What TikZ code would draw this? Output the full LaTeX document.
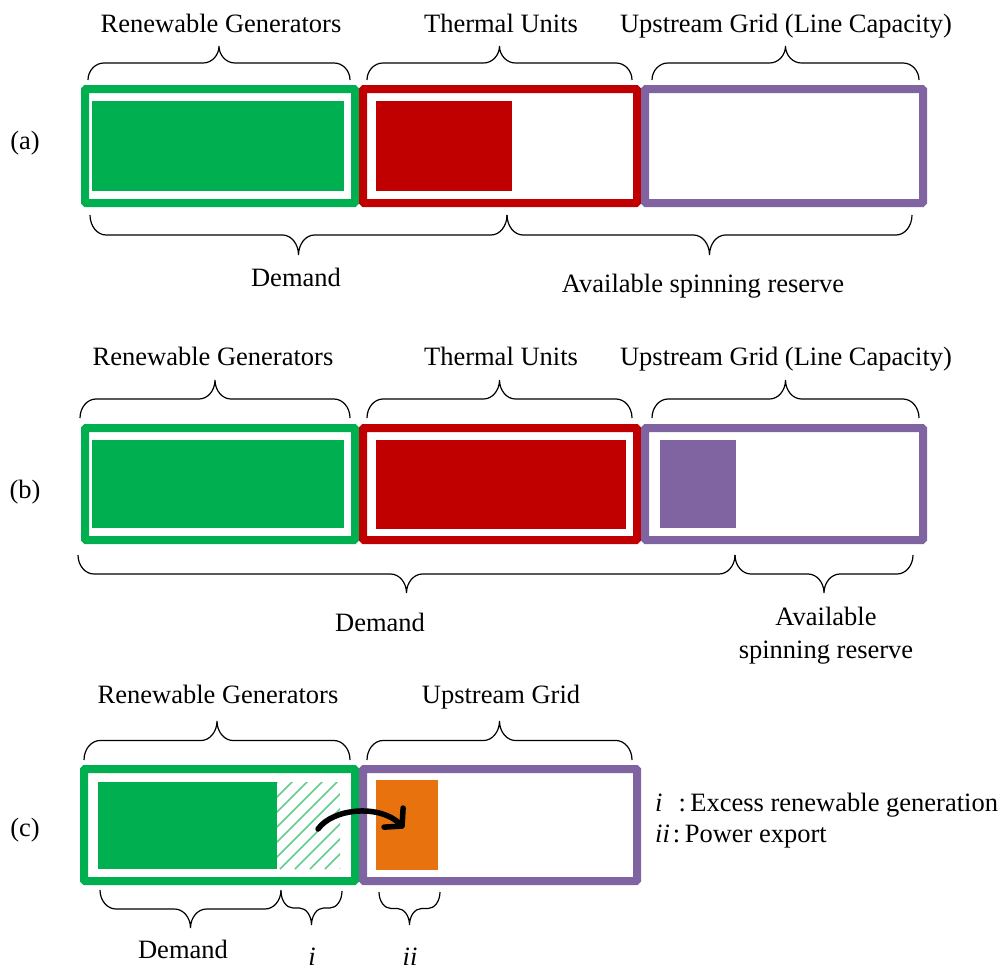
\documentclass[tikz,border=0pt]{standalone}
\usepackage{fontspec}
\setmainfont{Liberation Serif}
\usetikzlibrary{arrows.meta}
\definecolor{cgreen}{RGB}{0,176,80}
\definecolor{cred}{RGB}{192,0,0}
\definecolor{cpurple}{RGB}{128,100,162}
\definecolor{corange}{RGB}{232,114,14}
\definecolor{chatch}{RGB}{100,205,140}
\newcommand\mybrace[5]{%
  \pgfmathsetmacro\bxa{#1}\pgfmathsetmacro\bxb{#2}\pgfmathsetmacro\byo{#3}%
  \pgfmathsetmacro\bym{#3+0.5*(#4)}\pgfmathsetmacro\byt{#3+(#4)}%
  \pgfmathsetmacro\bxm{(#1+#2)/2}\pgfmathsetmacro\bc{#5}%
  \pgfmathsetmacro\byq{\byo+0.55*(\bym-\byo)}%
  \pgfmathsetmacro\byr{\bym+0.45*(\byt-\bym)}%
  \draw[bracestyle] (\bxa,\byo) .. controls (\bxa,\byq) and ({\bxa+0.45*\bc},\bym) .. ({\bxa+\bc},\bym)
    -- ({\bxm-\bc},\bym) .. controls ({\bxm-0.45*\bc},\bym) and (\bxm,\byr) .. (\bxm,\byt)
    .. controls (\bxm,\byr) and ({\bxm+0.45*\bc},\bym) .. ({\bxm+\bc},\bym)
    -- ({\bxb-\bc},\bym) .. controls ({\bxb-0.45*\bc},\bym) and (\bxb,\byq) .. (\bxb,\byo);
}
\begin{document}
\begin{tikzpicture}[x=1pt,y=-1pt,
  lbl/.style={anchor=base,inner sep=0pt,font=\fontsize{26.5}{30}\selectfont},
  lgd/.style={anchor=base west,inner sep=0pt,font=\fontsize{26.5}{30}\selectfont},
  frame/.style={line width=8pt,rounded corners=1pt},
  bracestyle/.style={line width=1.2pt,black},
  hatchline/.style={line width=1.6pt,chatch},
  exportarrow/.style={line width=5.5pt,line cap=round,-{Straight Barb[length=12pt,width=27pt,round]}}]
\useasboundingbox (0,0) rectangle (1003,969);

% ---------- (a) ----------
\node[lbl] (la) at (25,149) {(a)};
\draw[frame,cgreen] (85,89) rectangle (355,203);
\draw[frame,cred] (363,89) rectangle (637,203);
\draw[frame,cpurple] (645,89) rectangle (923,203);
\fill[cgreen] (92,101) rectangle (344,191);
\fill[cred] (376,101) rectangle (512,191);
\node[lbl] (a1) at (221,32) {Renewable Generators};
\node[lbl] (a2) at (501,32) {Thermal Units};
\node[lbl] (a3) at (786,32) {Upstream Grid (Line Capacity)};
\mybrace{88}{350}{80}{-34}{16}
\mybrace{367}{632}{80}{-34}{16}
\mybrace{652}{919}{80}{-34}{16}
\mybrace{90}{507}{215}{40}{16}
\mybrace{507}{912}{215}{40}{16}
\node[lbl] (a4) at (296,286) {Demand};
\node[lbl] (a5) at (703,292) {Available spinning reserve};

% ---------- (b) ----------
\node[lbl] (lb) at (25,498) {(b)};
\draw[frame,cgreen] (85,428) rectangle (355,540);
\draw[frame,cred] (363,428) rectangle (637,540);
\draw[frame,cpurple] (645,428) rectangle (923,540);
\fill[cgreen] (92,440) rectangle (344,528);
\fill[cred] (376,440) rectangle (626,529);
\fill[cpurple] (660,440) rectangle (736,528);
\node[lbl] (b1) at (213,365) {Renewable Generators};
\node[lbl] (b2) at (501,365) {Thermal Units};
\node[lbl] (b3) at (786,365) {Upstream Grid (Line Capacity)};
\mybrace{80}{350}{418}{-38}{16}
\mybrace{367}{632}{418}{-38}{16}
\mybrace{652}{919}{418}{-38}{16}
\mybrace{78}{735}{555}{38}{16}
\mybrace{735}{913}{555}{38}{16}
\node[lbl] (b4) at (380,631) {Demand};
\node[lbl] (b5) at (826,625) {Available};
\node[lbl] (b6) at (826,658) {spinning reserve};

% ---------- (c) ----------
\node[lbl] (lc) at (25,836) {(c)};
\draw[frame,cgreen] (84,769) rectangle (355,881);
\draw[frame,cpurple] (363,769) rectangle (637,881);
\fill[cgreen] (98,782) rectangle (277,869);
\begin{scope}
  \clip (277,782) rectangle (340,869);
  \foreach \k in {0,...,11} \draw[hatchline] ({190+15*\k},869) -- ++(100,-100);
\end{scope}
\fill[corange] (376,780) rectangle (438,870);
\coordinate (arrS) at (318,829);
\coordinate (arrE) at (404,828);
\draw[exportarrow] (arrS) .. controls (333,808) and (380,804) .. (arrE);
\node[lbl] (c1) at (218,703) {Renewable Generators};
\node[lbl] (c2) at (501,703) {Upstream Grid};
\mybrace{84}{350}{760}{-39}{16}
\mybrace{367}{632}{760}{-39}{16}
\mybrace{100}{281}{890}{38}{16}
\mybrace{281}{342}{891}{34}{12}
\mybrace{379}{440}{892}{33}{12}
\node[lbl] (c3) at (183,958) {Demand};
\node[lbl] (c4) at (312,965) {\textit{i}};
\node[lbl] (c5) at (410,965) {\textit{ii}};
\node[lgd] (g1) at (655,811) {\textit{i}\hspace{16pt}:\hspace{4.5pt}Excess renewable generation};
\node[lgd] (g2) at (655,842) {\textit{ii}\hspace{3pt}:\hspace{4.5pt}Power export};
\end{tikzpicture}
\end{document}
